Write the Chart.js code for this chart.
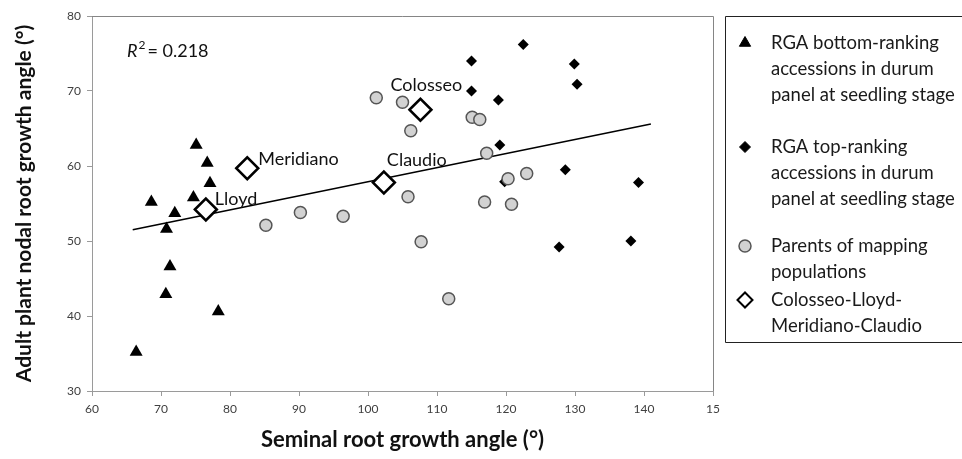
<!DOCTYPE html>
<html>
<head>
<meta charset="utf-8">
<script src="https://cdn.jsdelivr.net/npm/chart.js@4.4.1/dist/chart.umd.min.js"></script>
<style>
  html, body { margin: 0; padding: 0; background: #fff; }
  #wrap { width: 962px; height: 459px; position: relative; }
</style>
</head>
<body>
<div id="wrap"><canvas id="rgaChart"></canvas></div>
<script>
// seminal RGA (x) vs adult nodal RGA (y)
const bottomX = [66.4, 68.6, 70.7, 70.8, 71.3, 72.0, 74.7, 75.1, 76.7, 77.1, 78.3];
const bottomY = [35.2, 55.2, 42.9, 51.6, 46.6, 53.7, 55.8, 62.8, 60.4, 57.7, 40.6];

const topX = [115.0, 122.5, 115.0, 118.9, 119.1, 119.8, 129.9, 130.3, 128.6, 139.2, 127.7, 138.1];
const topY = [74.0, 76.2, 70.0, 68.8, 62.8, 57.9, 73.6, 70.9, 59.5, 57.8, 49.2, 50.0];

const parentX = [85.2, 90.2, 96.4, 101.2, 105.0, 106.2, 105.8, 107.7, 111.7, 115.1, 116.2, 117.2, 116.9, 120.3, 120.8, 123.0];
const parentY = [52.1, 53.8, 53.3, 69.1, 68.5, 64.7, 55.9, 49.9, 42.3, 66.5, 66.2, 61.7, 55.2, 58.3, 54.9, 59.0];

const hybridNames = ['Colosseo', 'Lloyd', 'Meridiano', 'Claudio'];
const hybridX = [107.6, 76.5, 82.5, 102.3];
const hybridY = [67.5, 54.2, 59.7, 57.8];

const trendX = [65.9, 141.0];
const trendY = [51.5, 65.6];
const rSquared = '0.218';

const xTicks = [60, 70, 80, 90, 100, 110, 120, 130, 140, 150];
const xTickLabels = ['60', '70', '80', '90', '100', '110', '120', '130', '140', '15'];
const yTicks = [30, 40, 50, 60, 70, 80];

const legendText = [
  ['RGA bottom-ranking', 'accessions in durum', 'panel at seedling stage'],
  ['RGA top-ranking', 'accessions in durum', 'panel at seedling stage'],
  ['Parents of mapping', 'populations'],
  ['Colosseo-Lloyd-', 'Meridiano-Claudio']
];

const pts = (xs, ys) => xs.map((x, i) => ({ x: x, y: ys[i] }));
const FONT = 'Lato, "Open Sans", sans-serif';

const extras = {
  id: 'extras',
  afterDatasetsDraw(chart) {
    const { ctx, chartArea: a } = chart;
    ctx.save();
    // top/right frame of the plot
    ctx.strokeStyle = '#858585';
    ctx.lineWidth = 1;
    ctx.beginPath();
    ctx.moveTo(a.left, a.top + 0.5);
    ctx.lineTo(a.right + 0.5, a.top + 0.5);
    ctx.lineTo(a.right + 0.5, a.bottom);
    ctx.stroke();

    // R² note
    ctx.fillStyle = '#111';
    ctx.textAlign = 'left';
    ctx.textBaseline = 'alphabetic';
    let x = a.left + 35, y = a.top + 41;
    ctx.font = 'italic 18px ' + FONT;
    ctx.fillText('R', x, y);
    x += ctx.measureText('R').width + 1;
    ctx.font = '12px ' + FONT;
    ctx.fillText('2', x, y - 8);
    x += ctx.measureText('2').width + 2;
    ctx.font = '18px ' + FONT;
    ctx.fillText('= ' + rSquared, x, y);

    // cultivar names next to the open diamonds
    const offs = { Colosseo: [-30, -19], Lloyd: [9, -5], Meridiano: [11, -3], Claudio: [3, -17] };
    const meta = chart.getDatasetMeta(3);
    ctx.font = '18px ' + FONT;
    meta.data.forEach((p, i) => {
      const o = offs[hybridNames[i]];
      ctx.fillText(hybridNames[i], p.x + o[0], p.y + o[1]);
    });
    ctx.restore();
  },
  afterDraw(chart) {
    const { ctx, chartArea: a } = chart;
    ctx.save();
    const bx = a.right + 12, by = a.top;
    ctx.strokeStyle = '#222';
    ctx.lineWidth = 1;
    ctx.beginPath();
    ctx.moveTo(chart.width + 5, by + 0.5);
    ctx.lineTo(bx + 0.5, by + 0.5);
    ctx.lineTo(bx + 0.5, by + 326.5);
    ctx.lineTo(chart.width + 5, by + 326.5);
    ctx.stroke();

    const starts = [27, 131, 230, 284];
    const marker = [
      { style: 'triangle', r: 6.5 },
      { style: 'rectRot', r: 5.5 },
      { style: 'circle', r: 6 },
      { style: 'rectRot', r: 7.5 }
    ];
    ctx.font = '18.5px ' + FONT;
    ctx.textAlign = 'left';
    ctx.textBaseline = 'middle';
    legendText.forEach((lines, i) => {
      const ds = chart.data.datasets[i];
      const yy = by + starts[i];
      ctx.fillStyle = ds.backgroundColor;
      ctx.strokeStyle = ds.borderColor;
      ctx.lineWidth = i === 3 ? 2 : (ds.borderWidth || 0);
      Chart.helpers.drawPoint(ctx, { pointStyle: marker[i].style, radius: marker[i].r, borderWidth: ctx.lineWidth }, bx + 20, yy);
      ctx.fillStyle = '#1a1a1a';
      lines.forEach((t, k) => ctx.fillText(t, bx + 46, yy + k * 25.8));
    });
    ctx.restore();
  }
};

new Chart(document.getElementById('rgaChart').getContext('2d'), {
  type: 'scatter',
  data: {
    datasets: [
      { label: legendText[0].join(' '), data: pts(bottomX, bottomY), pointStyle: 'triangle', pointRadius: 7.5,
        backgroundColor: '#000', borderColor: '#000', borderWidth: 0, order: 3 },
      { label: legendText[1].join(' '), data: pts(topX, topY), pointStyle: 'rectRot', pointRadius: 5.5,
        backgroundColor: '#000', borderColor: '#000', borderWidth: 0, order: 2 },
      { label: legendText[2].join(' '), data: pts(parentX, parentY), pointStyle: 'circle', pointRadius: 6,
        backgroundColor: '#d2d2d2', borderColor: '#555', borderWidth: 1.5, order: 1 },
      { label: legendText[3].join(''), data: pts(hybridX, hybridY), pointStyle: 'rectRot', pointRadius: 11,
        backgroundColor: '#fff', borderColor: '#000', borderWidth: 2.5, order: 0 },
      { type: 'line', label: 'trend', data: pts(trendX, trendY), showLine: true, pointRadius: 0,
        borderColor: '#000', borderWidth: 1.5, fill: false, order: 5 }
    ]
  },
  options: {
    responsive: true,
    maintainAspectRatio: false,
    animation: false,
    events: [],
    layout: { padding: { left: 0, top: 16, right: 249, bottom: 0 } },
    plugins: { legend: { display: false }, tooltip: { enabled: false } },
    scales: {
      x: {
        type: 'linear', min: 60, max: 150,
        afterFit: s => { s.height = 68; },
        afterBuildTicks: s => { s.ticks = xTicks.map(v => ({ value: v })); },
        ticks: { callback: v => xTickLabels[xTicks.indexOf(v)], color: '#404040', font: { family: FONT, size: 12 }, padding: 6, maxRotation: 0 },
        grid: { drawOnChartArea: false, drawTicks: true, tickLength: 5, color: '#9a9a9a' },
        border: { color: '#9a9a9a' },
        title: { display: true, text: 'Seminal root growth angle (°)', color: '#111',
          font: { family: FONT, size: 22, weight: 'bold' }, padding: { top: 0, bottom: 6 } }
      },
      y: {
        type: 'linear', min: 30, max: 80,
        afterFit: s => { s.width = 92; },
        afterBuildTicks: s => { s.ticks = yTicks.map(v => ({ value: v })); },
        ticks: { color: '#404040', font: { family: FONT, size: 12 }, padding: 6 },
        grid: { drawOnChartArea: false, drawTicks: true, tickLength: 5, color: '#9a9a9a' },
        border: { color: '#9a9a9a' },
        title: { display: true, text: 'Adult plant nodal root growth angle (°)', color: '#111',
          font: { family: FONT, size: 21, weight: 'bold' }, padding: { top: 12, bottom: 0 } }
      }
    }
  },
  plugins: [extras]
});
</script>
</body>
</html>
